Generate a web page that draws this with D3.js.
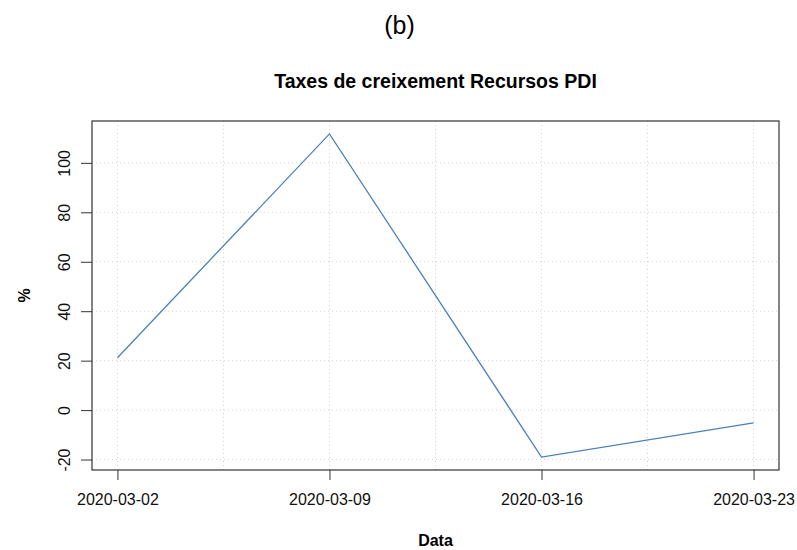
<!DOCTYPE html>
<html>
<head>
<meta charset="utf-8">
<script src="https://cdn.jsdelivr.net/npm/d3@7"></script>
<style>
  html, body { margin: 0; padding: 0; background: #fff; }
  svg { display: block; font-family: "Liberation Sans", Arial, Helvetica, sans-serif; }
</style>
</head>
<body>
<svg id="chart" width="797" height="550"></svg>
<script>
// Data
const dates = ["2020-03-02", "2020-03-09", "2020-03-16", "2020-03-23"];
const values = [21.2, 111.7, -19.0, -5.2];
const yTicks = [-20, 0, 20, 40, 60, 80, 100];
const yTickLabels = ["-20", "0", "20", "40", "60", "80", "100"];
const xGrid = [1, 1.5, 2, 2.5, 3, 3.5, 4];
const panelLabel = "(b)";
const titleText = "Taxes de creixement Recursos PDI";
const xLabel = "Data";
const yLabel = "%";

const svg = d3.select("#chart");
const L = 92, R = 779, T = 121, B = 470;

const idx = dates.map((d, i) => i + 1);
const xMin = 1, xMax = dates.length;
const xPad = (xMax - xMin) * 0.04;
const yLo = d3.min(values), yHi = d3.max(values);
const yPad = (yHi - yLo) * 0.04;

const x = d3.scaleLinear().domain([xMin - xPad, xMax + xPad]).range([L, R]);
const y = d3.scaleLinear().domain([yLo - yPad, yHi + yPad]).range([B, T]);

// Grid
const grid = svg.append("g").attr("stroke", "#d3d3d3").attr("stroke-width", 1).attr("stroke-dasharray", "1,3");
grid.selectAll("line.v").data(xGrid).join("line")
  .attr("x1", d => x(d)).attr("x2", d => x(d)).attr("y1", T).attr("y2", B);
grid.selectAll("line.h").data(yTicks).join("line")
  .attr("x1", L).attr("x2", R).attr("y1", d => y(d)).attr("y2", d => y(d));

// Line
const line = d3.line().x((d, i) => x(idx[i])).y(d => y(d));
svg.append("path").datum(values)
  .attr("fill", "none").attr("stroke", "#4a80b9").attr("stroke-width", 1.3)
  .attr("d", line);

// X axis
const xAxis = svg.append("g").attr("transform", `translate(0,${B})`)
  .call(d3.axisBottom(x).tickValues(idx).tickFormat((d, i) => dates[i]).tickSize(10).tickPadding(14));
xAxis.select(".domain").remove();
xAxis.selectAll("line").attr("stroke", "#333");
xAxis.selectAll("text").attr("font-size", 16).attr("fill", "#111")
  .attr("font-family", "Liberation Sans, Arial, sans-serif");

// Y axis
const yAxis = svg.append("g").attr("transform", `translate(${L},0)`)
  .call(d3.axisLeft(y).tickValues(yTicks).tickFormat((d, i) => yTickLabels[i]).tickSize(11));
yAxis.select(".domain").remove();
yAxis.selectAll("line").attr("stroke", "#333");
yAxis.selectAll("text")
  .attr("transform", "rotate(-90)")
  .attr("x", 0).attr("y", -22).attr("dy", 0)
  .attr("text-anchor", "middle")
  .attr("font-size", 16).attr("fill", "#111")
  .attr("font-family", "Liberation Sans, Arial, sans-serif");

// Box
svg.append("rect").attr("x", L).attr("y", T).attr("width", R - L).attr("height", B - T)
  .attr("fill", "none").attr("stroke", "#333").attr("stroke-width", 1.2);

// Texts
svg.append("text").attr("x", 399.5).attr("y", 34).attr("text-anchor", "middle")
  .attr("font-size", 25).attr("fill", "#000").text(panelLabel);
svg.append("text").attr("x", (L + R) / 2).attr("y", 88).attr("text-anchor", "middle")
  .attr("font-size", 19.5).attr("font-weight", "bold").attr("fill", "#000").text(titleText);
svg.append("text").attr("x", (L + R) / 2).attr("y", 545.5).attr("text-anchor", "middle")
  .attr("font-size", 16).attr("font-weight", "bold").attr("fill", "#000").text(xLabel);
svg.append("text").attr("transform", `translate(30,${(T + B) / 2}) rotate(-90)`).attr("text-anchor", "middle")
  .attr("font-size", 16).attr("font-weight", "bold").attr("fill", "#000").text(yLabel);
</script>
</body>
</html>
